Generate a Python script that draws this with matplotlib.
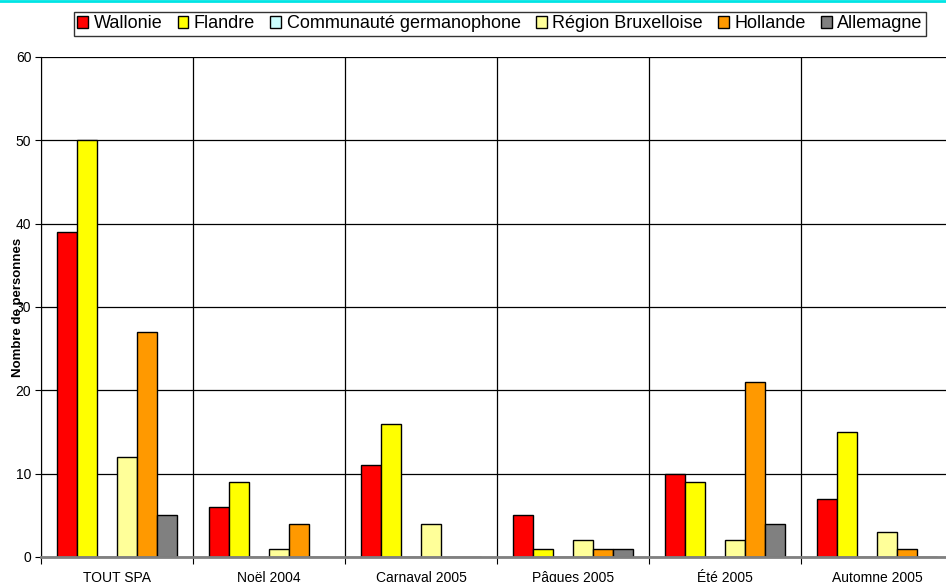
import matplotlib
matplotlib.use("Agg")
import matplotlib.pyplot as plt
import numpy as np
from matplotlib.lines import Line2D

categories = ["TOUT SPA", "Noël 2004", "Carnaval 2005", "Pâques 2005", "Été 2005", "Automne 2005"]
series_names = ["Wallonie", "Flandre", "Communauté germanophone", "Région Bruxelloise", "Hollande", "Allemagne"]
wallonie = [39, 6, 11, 5, 10, 7]
flandre = [50, 9, 16, 1, 9, 15]
germanophone = [0, 0, 0, 0, 0, 0]
bruxelles = [12, 1, 4, 2, 2, 3]
hollande = [27, 4, 0, 1, 21, 1]
allemagne = [5, 0, 0, 1, 4, 0]
series = [wallonie, flandre, germanophone, bruxelles, hollande, allemagne]
colors = ["#FF0000", "#FFFF00", "#CCFFFF", "#FFFF99", "#FF9900", "#808080"]

plt.rcParams['font.family'] = ['Liberation Sans', 'DejaVu Sans']

fig = plt.figure(figsize=(9.46, 5.82), dpi=100)
ax = fig.add_axes([41/946, 1-557/582, 912/946, 500/582])

n = len(categories)
x = np.arange(n)
bw = 20/152
offsets = (np.arange(6) - 2.5) * bw
for i, (vals, c, name) in enumerate(zip(series, colors, series_names)):
    ax.bar(x + offsets[i], vals, width=bw, color=c, edgecolor="black", linewidth=1.0, label=name, zorder=3)

ax.set_xlim(-0.5, n - 0.5)
ax.set_ylim(0, 60)
ax.set_yticks(range(0, 61, 10))
ax.set_xticks(np.arange(n + 1) - 0.5)
ax.set_xticklabels([])
ax.set_xticks(x, minor=True)
ax.set_xticklabels(categories, minor=True, fontsize=10)
ax.tick_params(axis='x', which='minor', length=0, pad=10)
ax.tick_params(axis='x', which='major', length=5, direction='out', color='black')
ax.tick_params(axis='y', length=4, direction='out', labelsize=10, pad=3)

ax.grid(axis='y', color='black', linewidth=0.9, zorder=0)
ax.grid(axis='x', which='major', color='black', linewidth=0.9, zorder=0)
for s in ['top', 'right']:
    ax.spines[s].set_visible(False)
ax.spines['left'].set_color('black')
ax.spines['bottom'].set_color('#808080')
ax.spines['bottom'].set_linewidth(2)
ax.spines['bottom'].set_zorder(4)

ax.set_ylabel("Nombre de personnes", fontsize=9.5, fontweight='bold')
ax.yaxis.set_label_coords(-17/912, 0.5)

leg = fig.legend(loc='center', bbox_to_anchor=(500/946, 1-24/582), ncol=6, fontsize=13,
                 frameon=True, fancybox=False, edgecolor='black', handlelength=0.6, handleheight=0.6,
                 handletextpad=0.3, columnspacing=0.85, borderpad=0.2, borderaxespad=0)
leg.get_frame().set_linewidth(1.0)

fig.add_artist(Line2D([0, 1], [1 - 1/582, 1 - 1/582], color='#00E5E5', linewidth=2, transform=fig.transFigure))

fig.savefig("out.png", dpi=100)
